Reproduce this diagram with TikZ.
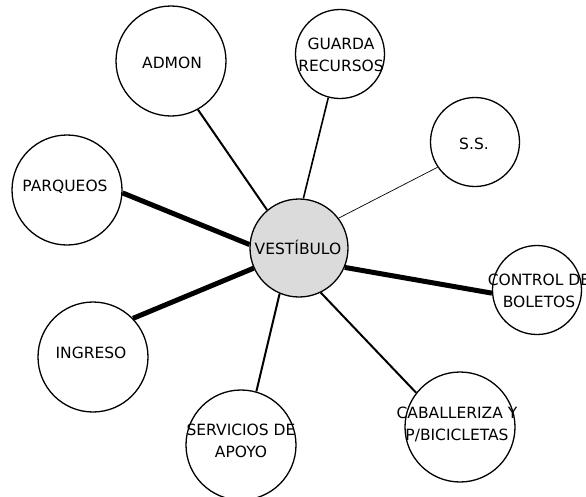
\documentclass[tikz,border=0pt]{standalone}
\usepackage{fontspec}
\setmainfont{DejaVu Sans}
\begin{document}
\begin{tikzpicture}[x=1pt,y=-1pt,
  bubble/.style={circle,draw,line width=1.3pt,fill=white,inner sep=0pt},
  big/.style={bubble,minimum size=110pt},
  small/.style={bubble,minimum size=89pt},
  hub/.style={bubble,minimum size=98pt,fill=black!14},
  lbl/.style={font=\fontsize{15.5}{22}\selectfont,align=center,inner sep=0pt},
  heavy/.style={line width=5pt},
  medium/.style={line width=2pt},
  light/.style={line width=1.6pt},
  hair/.style={line width=0.7pt}]
\useasboundingbox (0,0) rectangle (586,496);
% circles
\node[hub]   (vest)  at (299,248) {};
\node[big]   (admon) at (171,61)  {};
\node[small] (guarda) at (340,54) {};
\node[small] (ss)    at (475,142) {};
\node[big]   (parq)  at (67,190)  {};
\node[small] (ctrl)  at (537,290) {};
\node[big]   (ing)   at (93,357)  {};
\node[big]   (serv)  at (241,445) {};
\node[big]   (cab)   at (460,427) {};
% connectors
\draw[medium] (admon.-61) -- (vest.130);
\draw[light]  (guarda.-105) -- (vest.85);
\draw[hair]   (ss.-146) -- (vest.37);
\draw[heavy]  (parq.-3) -- (vest.176);
\draw[heavy]  (ing.44) -- (vest.-156);
\draw[heavy]  (ctrl.-176) -- (vest.-23);
\draw[medium] (serv.74) -- (vest.-113);
\draw[medium] (cab.142) -- (vest.-64);
% labels
\node[lbl] (vestT)   at (298,247) {VESTÍBULO};
\node[lbl] (admonT)  at (172,63)  {ADMON};
\node[lbl] (guardaT) at (341,55)  {GUARDA\\RECURSOS};
\node[lbl] (ssT)     at (474,144) {S.S.};
\node[lbl] (parqT)   at (65,187)  {PARQUEOS};
\node[lbl] (ctrlT)   at (539,291) {CONTROL DE\\BOLETOS};
\node[lbl] (ingT)    at (91,353)  {INGRESO};
\node[lbl] (servT)   at (241,441) {SERVICIOS DE\\APOYO};
\node[lbl] (cabT)    at (457,424) {CABALLERIZA Y\\P/BICICLETAS};
\end{tikzpicture}
\end{document}
